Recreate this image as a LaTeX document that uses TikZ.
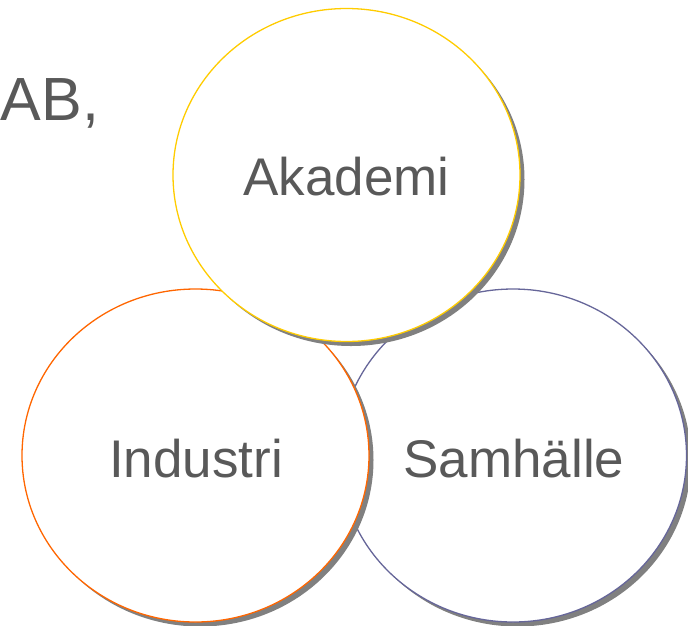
\documentclass[tikz,border=0pt]{standalone}
\usepackage{fontspec}
\setmainfont{Liberation Sans}
\definecolor{txtgray}{HTML}{595959}
\definecolor{shadowgray}{HTML}{808080}
\definecolor{akyellow}{HTML}{FFCC00}
\definecolor{indorange}{HTML}{FF6600}
\definecolor{sampurple}{HTML}{666699}
\tikzset{
  bubble/.style={ellipse, draw=#1, line width=1.3pt, fill=white, inner sep=0pt,
     minimum width=347pt, minimum height=333pt},
  shade/.style={ellipse, fill=shadowgray, draw=none, inner sep=0pt,
     minimum width=347pt, minimum height=333pt},
  lbl/.style={text=txtgray, font=\fontsize{53}{60}\selectfont, inner sep=0pt, anchor=base}
}
\usetikzlibrary{shapes.geometric}
\begin{document}
\begin{tikzpicture}[x=1pt,y=-1pt]
\useasboundingbox (0,0) rectangle (688,625);
\clip (0,0) rectangle (688,625);
% Samhalle
\node[shade] (sams) at (517.5,460) {};
\node[bubble=sampurple] (sam) at (513,455.5) {};
% Industri
\node[shade] (inds) at (200,460) {};
\node[bubble=indorange] (ind) at (195.5,455.5) {};
% Akademi
\node[shade] (aks) at (351,179.5) {};
\node[bubble=akyellow] (ak) at (346.5,175) {};
% labels
\node[lbl] (akl) at (346.5,195) {Akademi};
\node[lbl] (indl) at (196,477) {Industri};
\node[lbl] (saml) at (514,477) {Samhälle};
\node[text=txtgray, font=\fontsize{61}{66}\selectfont, inner sep=0pt, anchor=base west] (ab) at (0.5,120) {AB,};
\end{tikzpicture}
\end{document}
